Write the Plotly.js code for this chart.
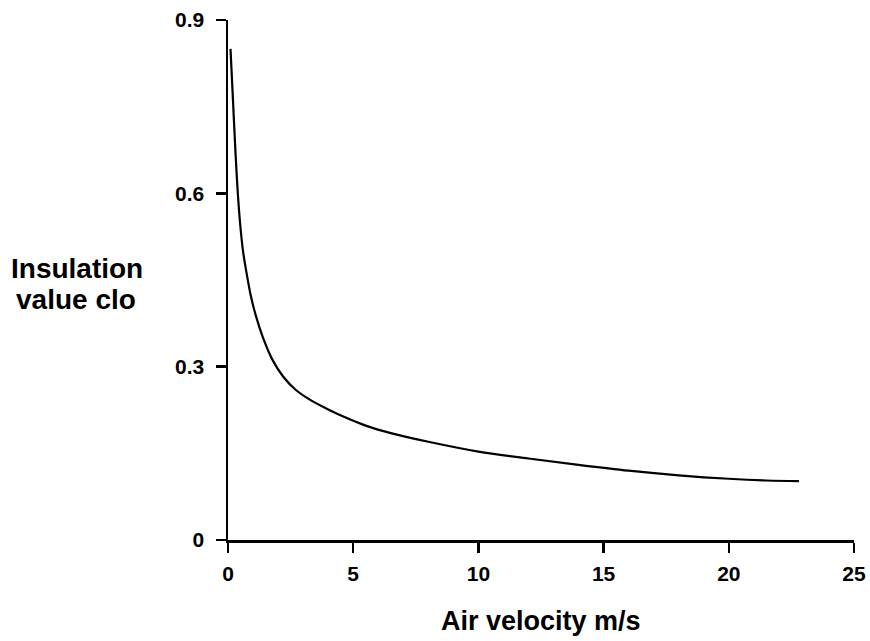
<!DOCTYPE html>
<html>
<head>
<meta charset="utf-8">
<script src="https://cdn.plot.ly/plotly-3.0.1.min.js"></script>
<style>html,body{margin:0;padding:0;background:#fff;}#chart{width:870px;height:641px;}</style>
</head>
<body>
<div id="chart"></div>
<script>
// Air velocity (m/s)
const airVelocity = [0.1, 0.2, 0.3, 0.4, 0.5, 0.6, 0.75, 0.9, 1.1, 1.4, 1.8, 2.2, 2.7, 3.3, 4, 4.7, 5.5, 6.5, 8, 10, 12, 14, 16, 18, 20, 21.5, 22.8];
// Insulation value (clo)
const insulationClo = [0.85, 0.76, 0.67, 0.595, 0.54, 0.5, 0.46, 0.425, 0.39, 0.35, 0.31, 0.283, 0.26, 0.242, 0.226, 0.212, 0.198, 0.185, 0.17, 0.153, 0.141, 0.13, 0.12, 0.112, 0.106, 0.103, 0.102];
const xTicks = [0, 5, 10, 15, 20, 25];
const yTicks = [0, 0.3, 0.6, 0.9];
const yTickLabels = ['0', '0.3', '0.6', '0.9'];
const xTitle = 'Air velocity m/s';
const yTitleLines = ['Insulation', 'value clo'];

const font = 'Liberation Sans, Arial, sans-serif';
const L = 228, T = 20, W = 626, H = 520;

const trace = {
  x: airVelocity, y: insulationClo, type: 'scatter', mode: 'lines',
  line: {color: '#000', width: 2.2, shape: 'spline', smoothing: 1},
  hoverinfo: 'skip'
};

const axisCommon = {
  showgrid: false, zeroline: false, showline: true, linecolor: '#000', linewidth: 2.5,
  ticks: 'outside', ticklen: 10, tickwidth: 2.5, tickcolor: '#000',
  tickfont: {family: font, size: 21, color: '#000', weight: 'bold'},
  fixedrange: true
};

const layout = {
  width: 870, height: 641,
  margin: {l: L, r: 870 - L - W, t: T, b: 641 - T - H},
  paper_bgcolor: '#fff', plot_bgcolor: '#fff',
  showlegend: false,
  xaxis: Object.assign({}, axisCommon, {range: [0, 25], tickvals: xTicks, ticktext: xTicks.map(String), ticklabelstandoff: 3}),
  yaxis: Object.assign({}, axisCommon, {range: [0, 0.9], tickvals: yTicks, ticktext: yTickLabels, ticklabelstandoff: 7}),
  annotations: [
    {text: '<b>' + yTitleLines[0] + '</b>', xref: 'paper', yref: 'paper', x: (77 - L) / W, y: (T + H - 268) / H,
     xanchor: 'center', yanchor: 'middle', showarrow: false, font: {family: font, size: 28, color: '#000'}},
    {text: '<b>' + yTitleLines[1] + '</b>', xref: 'paper', yref: 'paper', x: (76 - L) / W, y: (T + H - 299) / H,
     xanchor: 'center', yanchor: 'middle', showarrow: false, font: {family: font, size: 28, color: '#000'}},
    {text: '<b>' + xTitle + '</b>', xref: 'paper', yref: 'paper', x: (541 - L) / W, y: (T + H - 621) / H,
     xanchor: 'center', yanchor: 'middle', showarrow: false, font: {family: font, size: 27, color: '#000'}}
  ]
};

Plotly.newPlot('chart', [trace], layout, {staticPlot: true, displayModeBar: false});
</script>
</body>
</html>
